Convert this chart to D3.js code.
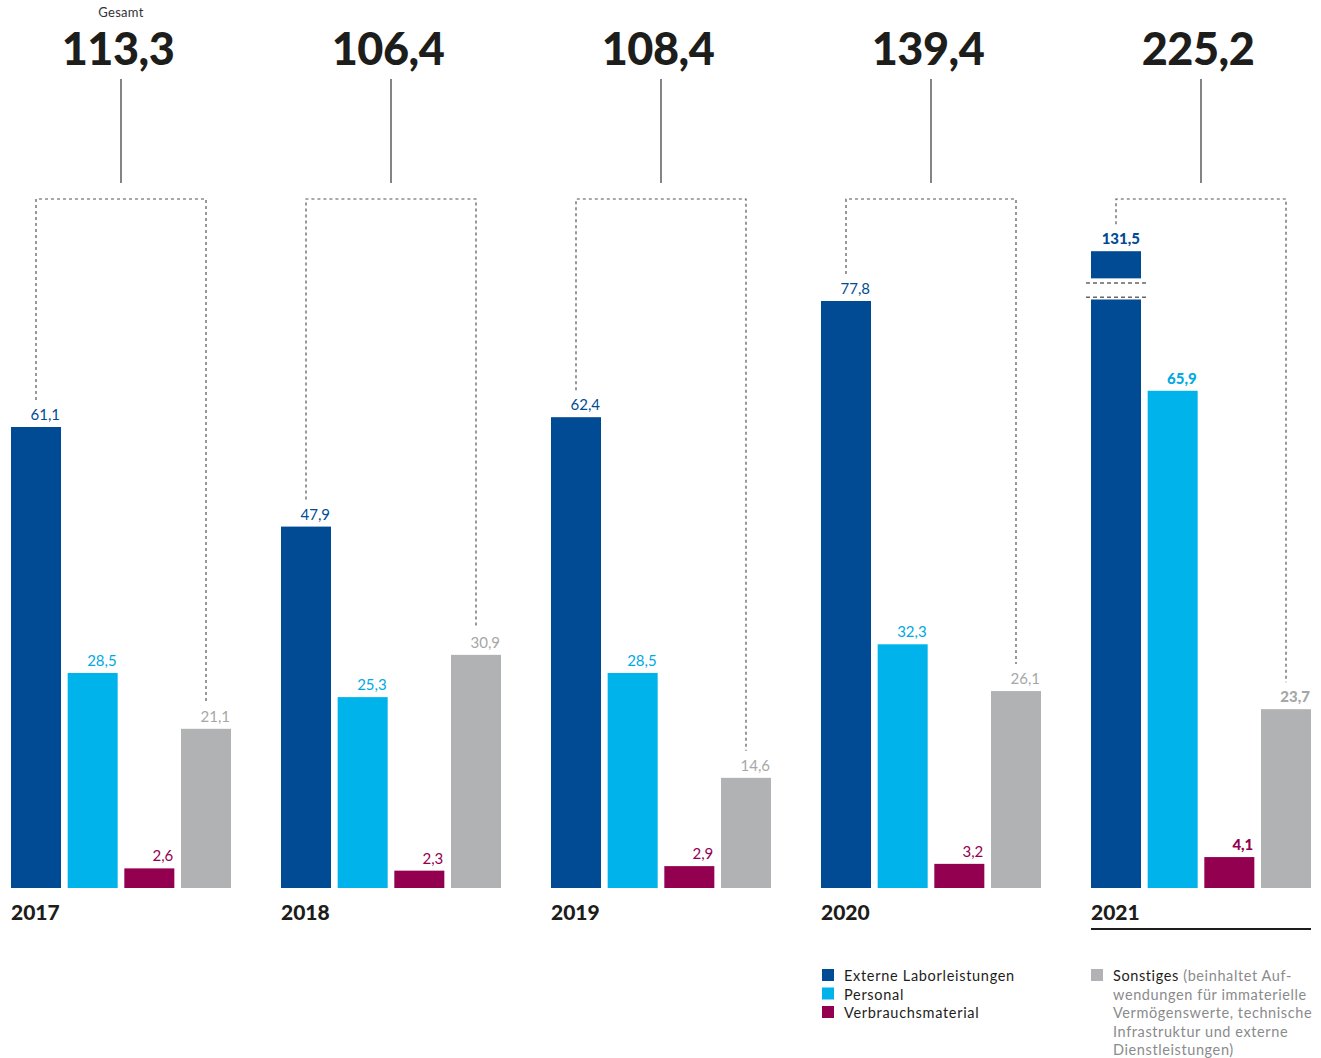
<!DOCTYPE html>
<html>
<head>
<meta charset="utf-8">
<script src="https://cdn.jsdelivr.net/npm/d3@7"></script>
<style>
	body { margin: 0; background: #fff; }
	svg { display: block; font-family: Lato, "Noto Sans", sans-serif; }
</style>
</head>
<body>
<div id="chart"></div>
<script>
// data (Mio. EUR)
var years = ["2017", "2018", "2019", "2020", "2021"];
var totals = ["113,3", "106,4", "108,4", "139,4", "225,2"];
var seriesNames = ["Externe Laborleistungen", "Personal", "Verbrauchsmaterial", "Sonstiges"];
var extern = [61.1, 47.9, 62.4, 77.8, 131.5];
var personal = [28.5, 25.3, 28.5, 32.3, 65.9];
var verbrauch = [2.6, 2.3, 2.9, 3.2, 4.1];
var sonstiges = [21.1, 30.9, 14.6, 26.1, 23.7];
var colors = ["#004b93", "#00b4eb", "#930050", "#b1b2b3"];
var labelColors = ["#004b93", "#00a9e2", "#930050", "#a6a7a8"];

var W = 1321, H = 1058;
var baseY = 888;

var values = [extern, personal, verbrauch, sonstiges];
var rows = [];
years.forEach(function(yr, i) {
	values.forEach(function(v, s) {
		rows.push({year: yr, yi: i, s: s, value: v[i]});
	});
});

var x0 = d3.scaleBand().domain(years).range([11, 1311]).paddingInner(50 / 270);
var x1 = d3.scaleBand().domain(d3.range(4)).range([0, x0.bandwidth()]).paddingInner(0.1176);
var y = d3.scaleLinear().domain([0, 100]).range([baseY, baseY - 754.5]);

// broken bar: values above this are drawn with a cut
var breakAt = 78;
var breakGap = [78.3, 80.2];
var brokenTop = 84.4;

var svg = d3.select("#chart").append("svg")
	.attr("width", W)
	.attr("height", H);

function shown(d) {
	return d.value > 100 ? brokenTop : d.value;
}

// brackets
var gB = svg.append("g");
years.forEach(function(yr, i) {
	var cx = x0(yr) + x0.bandwidth() / 2;
	var a = x0(yr) + x1(0) + x1.bandwidth() / 2;
	var b = x0(yr) + x1(3) + x1.bandwidth() / 2;
	var ta = y(shown({value: extern[i]})) - 27;
	var tb = y(shown({value: sonstiges[i]})) - 27;
	gB.append("path")
		.attr("d", "M" + a + "," + ta + "V199H" + b + "V" + tb)
		.attr("fill", "none")
		.attr("stroke", "#555")
		.attr("stroke-width", 1.2)
		.attr("stroke-dasharray", "3,3");
	gB.append("line")
		.attr("x1", cx).attr("x2", cx)
		.attr("y1", 79).attr("y2", 183)
		.attr("stroke", "#333")
		.attr("stroke-width", 1.2);
	svg.append("text")
		.attr("x", cx - 3)
		.attr("y", 65)
		.attr("text-anchor", "middle")
		.attr("font-size", 45)
		.attr("font-weight", 900)
		.attr("fill", "#1d1d1b")
		.attr("letter-spacing", -0.5)
		.text(totals[i]);
});

svg.append("text")
	.attr("x", x0("2017") + x0.bandwidth() / 2)
	.attr("y", 17)
	.attr("text-anchor", "middle")
	.attr("font-size", 13)
	.attr("letter-spacing", 0.3)
	.attr("fill", "#333")
	.text("Gesamt");

// bars
svg.append("g").selectAll("rect")
	.data(rows)
	.join("rect")
	.attr("x", d => x0(d.year) + x1(d.s))
	.attr("width", x1.bandwidth())
	.attr("y", d => d.value > 100 ? y(breakAt) : y(d.value))
	.attr("height", d => baseY - (d.value > 100 ? y(breakAt) : y(d.value)))
	.attr("fill", d => colors[d.s]);

// top piece of broken bar + cut marks
rows.filter(d => d.value > 100).forEach(function(d) {
	var bx = x0(d.year) + x1(d.s);
	svg.append("rect")
		.attr("x", bx)
		.attr("width", x1.bandwidth())
		.attr("y", y(brokenTop))
		.attr("height", y(80.8) - y(brokenTop))
		.attr("fill", colors[d.s]);
	breakGap.forEach(function(g) {
		svg.append("line")
			.attr("x1", bx - 5).attr("x2", bx + x1.bandwidth() + 5)
			.attr("y1", y(g)).attr("y2", y(g))
			.attr("stroke", "#666")
			.attr("stroke-width", 1.5)
			.attr("stroke-dasharray", "4,3");
	});
});

// value labels
svg.append("g").selectAll("text")
	.data(rows)
	.join("text")
	.attr("x", d => x0(d.year) + x1(d.s) + x1.bandwidth() - 1)
	.attr("y", d => y(shown(d)) - 7)
	.attr("text-anchor", "end")
	.attr("font-size", 15)
	.attr("font-weight", d => d.year === "2021" ? 900 : 400)
	.attr("fill", d => labelColors[d.s])
	.text(d => d3.format(".1f")(d.value).replace(".", ","));

// year labels
svg.append("g").selectAll("text")
	.data(years)
	.join("text")
	.attr("x", d => x0(d))
	.attr("y", 920)
	.attr("font-size", 21)
	.attr("font-weight", 900)
	.attr("fill", "#1d1d1b")
	.text(d => d);

svg.append("line")
	.attr("x1", x0("2021")).attr("x2", x0("2021") + x0.bandwidth())
	.attr("y1", 929).attr("y2", 929)
	.attr("stroke", "#1d1d1b")
	.attr("stroke-width", 2);

// legend
var lg = svg.append("g").attr("font-size", 14.5).attr("fill", "#1d1d1b");
seriesNames.slice(0, 3).forEach(function(n, i) {
	var ly = 976 + i * 18.5;
	lg.append("rect")
		.attr("x", x0("2020") + 1).attr("y", ly - 7)
		.attr("width", 12).attr("height", 12)
		.attr("fill", colors[i]);
	lg.append("text")
		.attr("x", x0("2020") + 23).attr("y", ly + 5)
		.attr("letter-spacing", 0.7)
		.text(n);
});

var noteLines = ["(beinhaltet Auf-", "wendungen für immaterielle", "Vermögenswerte, technische",
	"Infrastruktur und externe", "Dienstleistungen)"];
lg.append("rect")
	.attr("x", x0("2021")).attr("y", 969)
	.attr("width", 12).attr("height", 12)
	.attr("fill", colors[3]);
var t0 = lg.append("text")
	.attr("x", x0("2021") + 22).attr("y", 981)
	.attr("letter-spacing", 0.6);
t0.append("tspan").text(seriesNames[3] + " ");
t0.append("tspan").attr("fill", "#8a8b8c").text(noteLines[0]);
noteLines.slice(1).forEach(function(l, i) {
	lg.append("text")
		.attr("x", x0("2021") + 22).attr("y", 981 + (i + 1) * 18.5)
		.attr("fill", "#8a8b8c")
		.attr("letter-spacing", 0.6)
		.text(l);
});
</script>
</body>
</html>
